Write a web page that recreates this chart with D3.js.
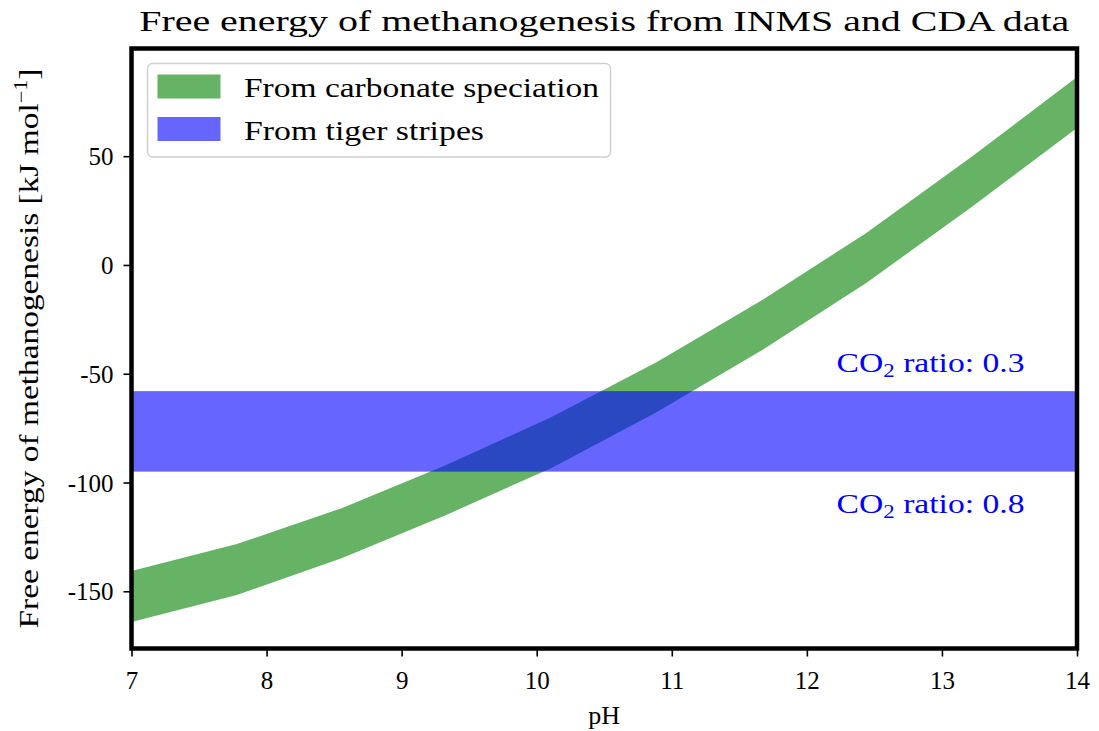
<!DOCTYPE html>
<html>
<head>
<meta charset="utf-8">
<script src="https://cdn.jsdelivr.net/npm/d3@7"></script>
<style>
  body { margin: 0; background: #fff; }
  svg text { font-family: "Liberation Serif", "DejaVu Serif", serif; fill: #000; }
</style>
</head>
<body>
<div id="chart"></div>
<script>
// pH grid of the carbonate-speciation band
const pH = [7, 7.78, 8.56, 9.33, 10.11, 10.89, 11.67, 12.44, 13.22, 14];
// upper / lower edge of free energy band [kJ/mol]
const carbUpper = [-140.7, -128.3, -111.7, -92.0, -69.9, -44.6, -16.1, 14.7, 49.7, 86.4];
const carbLower = [-164.1, -151.7, -134.7, -114.9, -93.3, -67.6, -39.1, -8.3, 26.7, 63.0];
// tiger stripe band (CO2 ratio 0.8 -> 0.3)
const stripeRange = [-95, -58];
const ratioLabels = [
    { text: "ratio: 0.3", value: -44.6 },
    { text: "ratio: 0.8", value: -109.3 }
];
const xTicks = [7, 8, 9, 10, 11, 12, 13, 14];
const yTicks = [-150, -100, -50, 0, 50];
const legendItems = [
    { label: "From carbonate speciation", color: "green" },
    { label: "From tiger stripes", color: "blue" }
];

const width = 1099, height = 731;
const margin = { left: 131.5, right: 22, top: 48.5, bottom: 82.5 };

const svg = d3.select("#chart").append("svg")
    .attr("width", width)
    .attr("height", height);

const x = d3.scaleLinear().domain([7, 14]).range([margin.left, width - margin.right]);
const y = d3.scaleLinear().domain([-176.3, 99.5]).range([height - margin.bottom, margin.top]);

const plotW = x.range()[1] - x.range()[0];
const plotH = y.range()[0] - y.range()[1];

svg.append("clipPath").attr("id", "clip")
    .append("rect")
    .attr("x", margin.left).attr("y", margin.top)
    .attr("width", plotW).attr("height", plotH);

const plot = svg.append("g").attr("clip-path", "url(#clip)");

// green band
const band = pH.map((p, i) => ({ x: p, y0: carbLower[i], y1: carbUpper[i] }));
plot.append("path")
    .datum(band)
    .attr("fill", "green")
    .attr("fill-opacity", 0.6)
    .attr("d", d3.area().x(d => x(d.x)).y0(d => y(d.y0)).y1(d => y(d.y1)));

// blue band across all pH
plot.append("rect")
    .attr("x", x(7))
    .attr("width", plotW)
    .attr("y", y(stripeRange[1]))
    .attr("height", y(stripeRange[0]) - y(stripeRange[1]))
    .attr("fill", "blue")
    .attr("fill-opacity", 0.6);

// CO2 ratio labels
ratioLabels.forEach(d => {
    const t = svg.append("text")
        .attr("x", x(12.22))
        .attr("y", y(d.value) + 10)
        .attr("font-size", 28)
        .attr("textLength", 188)
        .attr("lengthAdjust", "spacingAndGlyphs")
        .style("fill", "blue");
    t.append("tspan").text("CO");
    t.append("tspan").attr("font-size", 19).attr("dy", 5).text("2");
    t.append("tspan").attr("dy", -5).text(" " + d.text);
});

// axes
const xAxis = svg.append("g")
    .attr("transform", `translate(0,${y.range()[0]})`)
    .call(d3.axisBottom(x).tickValues(xTicks).tickSize(8).tickPadding(10).tickFormat(d3.format("d")));
xAxis.selectAll("text").attr("dy", null).attr("y", 40).attr("font-size", 25);

const yAxis = svg.append("g")
    .attr("transform", `translate(${margin.left},0)`)
    .call(d3.axisLeft(y).tickValues(yTicks).tickSize(8).tickPadding(10).tickFormat(d => String(d)));
yAxis.selectAll("text").attr("font-size", 25).attr("dy", "0.34em");

[xAxis, yAxis].forEach(a => {
    a.select(".domain").remove();
    a.selectAll(".tick line").attr("stroke", "#000").attr("stroke-width", 1.6);
});

// frame
svg.append("rect")
    .attr("x", margin.left).attr("y", margin.top)
    .attr("width", plotW).attr("height", plotH)
    .attr("fill", "none")
    .attr("stroke", "#000")
    .attr("stroke-width", 4.5);

// legend
const legend = svg.append("g");
legend.append("rect")
    .attr("x", 147.5).attr("y", 63.5)
    .attr("width", 463).attr("height", 93.5)
    .attr("rx", 5)
    .attr("fill", "#fff").attr("fill-opacity", 0.8)
    .attr("stroke", "#d0d0d0").attr("stroke-width", 1.5);
const legendW = [355, 240];
legendItems.forEach((d, i) => {
    const yy = 74.5 + i * 42.5;
    legend.append("rect")
        .attr("x", 157.5).attr("y", yy)
        .attr("width", 63).attr("height", 24)
        .attr("fill", d.color).attr("fill-opacity", 0.6);
    legend.append("text")
        .attr("x", 244).attr("y", yy + 22.5)
        .attr("font-size", 28)
        .attr("textLength", legendW[i])
        .attr("lengthAdjust", "spacingAndGlyphs")
        .text(d.label);
});

// title
svg.append("text")
    .attr("x", (x.range()[0] + x.range()[1]) / 2)
    .attr("y", 31)
    .attr("text-anchor", "middle")
    .attr("font-size", 30)
    .attr("textLength", 930)
    .attr("lengthAdjust", "spacingAndGlyphs")
    .text("Free energy of methanogenesis from INMS and CDA data");

// x label
svg.append("text")
    .attr("x", (x.range()[0] + x.range()[1]) / 2)
    .attr("y", 724)
    .attr("text-anchor", "middle")
    .attr("font-size", 26)
    .text("pH");

// y label
const yl = svg.append("text")
    .attr("transform", `translate(38,${(y.range()[0] + y.range()[1]) / 2}) rotate(-90)`)
    .attr("text-anchor", "middle")
    .attr("font-size", 27)
    .attr("textLength", 560)
    .attr("lengthAdjust", "spacingAndGlyphs");
yl.append("tspan").text("Free energy of methanogenesis [kJ mol");
yl.append("tspan").attr("font-size", 18).attr("dy", -11).text("\u22121");
yl.append("tspan").attr("dy", 11).text("]");
</script>
</body>
</html>
